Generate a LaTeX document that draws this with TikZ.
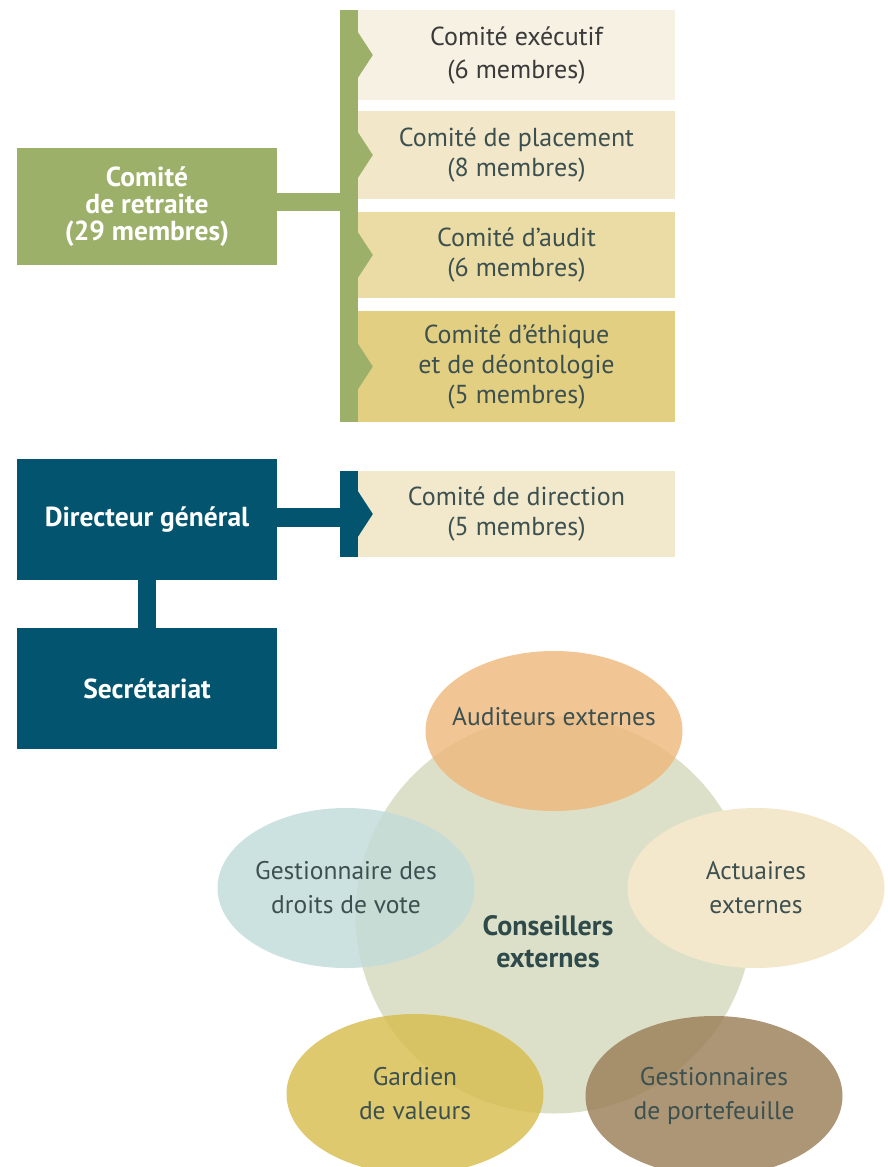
\documentclass[tikz,border=0pt]{standalone}
\usepackage{fontspec}
\usetikzlibrary{shapes.geometric}
\setmainfont{PT Sans}
\definecolor{green}{HTML}{9DB06A}
\definecolor{teal}{HTML}{03546F}
\definecolor{cA}{HTML}{F7F1E3}
\definecolor{cB}{HTML}{F2E7C8}
\definecolor{cC}{HTML}{EADCA4}
\definecolor{cD}{HTML}{E2CF82}
\definecolor{cE}{HTML}{F2E8CB}
\definecolor{txt}{HTML}{3D5050}
\definecolor{txtdark}{HTML}{3A3A3A}
\definecolor{circ}{HTML}{DDE0C8}
\definecolor{aud}{HTML}{EFB87C}
\definecolor{vote}{HTML}{C1DCD9}
\definecolor{act}{HTML}{F3E8CB}
\definecolor{gard}{HTML}{D8BD4E}
\definecolor{port}{HTML}{9A7F57}
\definecolor{cons}{HTML}{2E4A4A}
\begin{document}
\begin{tikzpicture}[x=1pt,y=-1pt,
  leftbox/.style={rectangle,inner sep=0pt,minimum width=260pt,text=white,align=center,
     font=\fontsize{27.5}{27}\selectfont\bfseries},
  combox/.style={rectangle,inner sep=0pt,minimum width=317pt,text=txt,align=center,
     font=\fontsize{26}{30}\selectfont},
  bar/.style={rectangle,inner sep=0pt,minimum width=18pt},
  ell/.style={ellipse,inner sep=0pt,minimum width=257pt,minimum height=160pt,text=txt,align=center,
     font=\fontsize{25.5}{34}\selectfont},
  elltxt/.style={text=txt,align=center,font=\fontsize{25.5}{34}\selectfont,text opacity=1},
]
\useasboundingbox (0,0) rectangle (888,1167);
% ---- top: comite de retraite
\node[leftbox,fill=green,minimum height=117pt] (cr) at (147,206.5) {Comité\\de retraite\\(29 membres)};
\node[bar,fill=green,minimum height=412pt] (gbar) at (349,216) {};
\node[combox,fill=cA,minimum height=90pt,text=txtdark,font=\fontsize{26}{33}\selectfont] (c1) at (516.5,55) {Comité exécutif\\(6 membres)};
\node[combox,fill=cB,minimum height=88pt] (c2) at (516.5,155) {Comité de placement\\(8 membres)};
\node[combox,fill=cC,minimum height=86pt] (c3) at (516.5,255) {Comité d’audit\\(6 membres)};
\node[combox,fill=cD,minimum height=111pt] (c4) at (516.5,366.5) {Comité d’éthique\\et de déontologie\\(5 membres)};
\coordinate (gj) at (cr.east |- 0,202);
\fill[green] ([yshift=-9pt]gj) rectangle ([yshift=9pt]gj -| gbar.west);
\foreach \n in {c1,c2,c3,c4}{
  \fill[green] ([yshift=-23pt]\n.west) -- ([xshift=15pt]\n.west) -- ([yshift=23pt]\n.west) -- cycle;
}
% ---- directeur general
\node[leftbox,fill=teal,minimum height=121pt] (dg) at (147,519.5) {Directeur général};
\node[leftbox,fill=teal,minimum height=121pt] (sec) at (147,688.5) {Secrétariat};
\node[bar,fill=teal,minimum height=86pt] (tbar) at (349,514) {};
\node[combox,fill=cE,minimum height=86pt] (cd) at (516.5,514) {Comité de direction\\(5 membres)};
\coordinate (dj) at (dg.east |- 0,517.5);
\fill[teal] ([yshift=-9.5pt]dj) rectangle ([yshift=9.5pt]dj -| tbar.west);
\fill[teal] ([yshift=-23pt]cd.west) -- ([xshift=15pt]cd.west) -- ([yshift=23pt]cd.west) -- cycle;
\fill[teal] ([xshift=-9pt]dg.south) rectangle ([xshift=9pt]sec.north);
% ---- conseillers externes
\begin{scope}
\clip (0,0) rectangle (888,1167);
\node[circle,fill=circ,minimum size=397pt,inner sep=0pt] (ce) at (554,915) {};
\node[ell,fill=aud,fill opacity=0.82,label={[elltxt,yshift=14pt]center:Auditeurs externes}] (aud) at (554,731) {};
\node[ell,fill=vote,fill opacity=0.82,text opacity=1] (vote) at (346,888) {Gestionnaire des\\droits de vote};
\node[ell,fill=gard,fill opacity=0.82,text opacity=1] (gard) at (415,1094) {Gardien\\de valeurs};
\node[ell,fill=port,fill opacity=0.82,text opacity=1] (port) at (714,1096) {Gestionnaires\\de portefeuille};
\node[ell,fill=act] (act) at (756,888) {Actuaires\\externes};
\end{scope}
\node[text=cons,align=center,font=\fontsize{28}{32}\selectfont\bfseries] (cetxt) at (548,942) {Conseillers\\externes};
\end{tikzpicture}
\end{document}
